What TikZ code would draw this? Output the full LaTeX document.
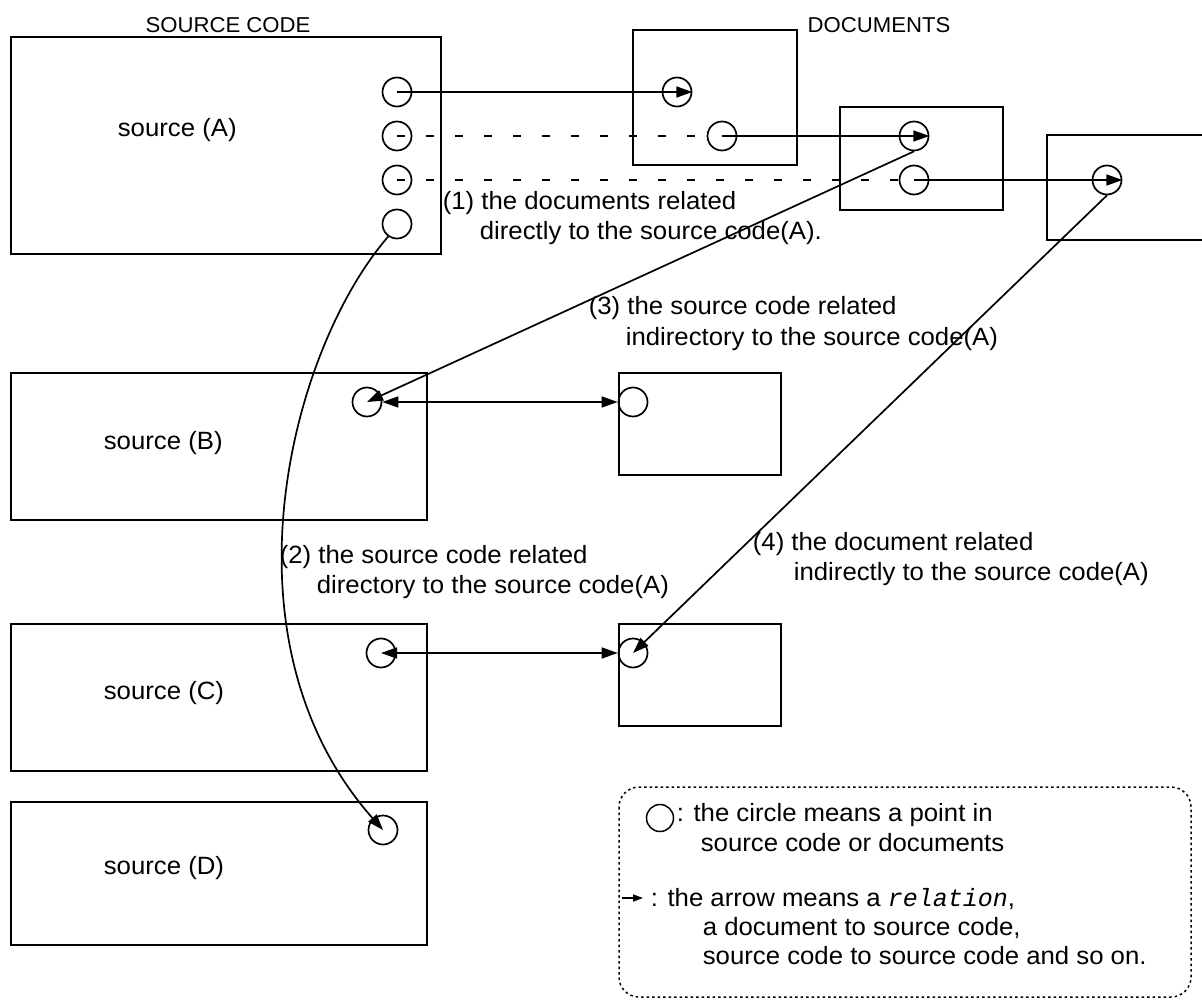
\documentclass[tikz,border=0pt]{standalone}
\usepackage{fontspec}
\setmainfont{Liberation Sans}[FakeStretch=1.03]
\newfontfamily\relfont{Liberation Mono}
\usetikzlibrary{arrows.meta}
\begin{document}
\begin{tikzpicture}[x=1pt,y=-1pt,
  line width=1.7pt,
  box/.style={draw,line width=1.7pt},
  pt/.style={draw,circle,minimum size=29pt,inner sep=0pt,line width=1.7pt},
  rel/.style={-{Triangle[length=16pt,width=11pt]}},
  birel/.style={{Triangle[length=16pt,width=11pt]}-{Triangle[length=16pt,width=11pt]}},
  guide/.style={dash pattern=on 8pt off 21pt},
  txt/.style={anchor=base west,inner sep=0pt,font=\fontsize{25}{30}\selectfont,align=left},
  head/.style={anchor=base,inner sep=0pt,font=\fontsize{21.5}{26}\selectfont},
  legendframe/.style={draw,line width=1.5pt,dash pattern=on 2.5pt off 3pt,rounded corners=20pt}]
\clip (0,0) rectangle (1202,1000);

% column headings
\node[head] (hsrc) at (228,33) {SOURCE CODE};
\node[head] (hdoc) at (879,33) {DOCUMENTS};

% source code files
\draw[box] (11,37) rectangle (441,254);
\draw[box] (11,373) rectangle (427,520);
\draw[box] (11,624) rectangle (427,771);
\draw[box] (11,802) rectangle (427,945);
\node[txt] (sa) at (117,137) {source (A)};
\node[txt] (sb) at (103,449) {source (B)};
\node[txt] (sc) at (103,699) {source (C)};
\node[txt] (sd) at (103,874) {source (D)};

% documents
\draw[box] (633,30) rectangle (797,165);
\draw[box] (840,107) rectangle (1003,210);
\draw[box] (1047,135) rectangle (1215,240);
\draw[box] (619,373) rectangle (781,475);
\draw[box] (619,624) rectangle (781,726);

% points inside sources and documents
\node[pt] (a1) at (397,92) {};
\node[pt] (a2) at (397,136) {};
\node[pt] (a3) at (397,180) {};
\node[pt] (a4) at (397,224) {};
\node[pt] (d1a) at (677,92) {};
\node[pt] (d1b) at (722,136) {};
\node[pt] (d2a) at (914,136) {};
\node[pt] (d2b) at (914,180) {};
\node[pt] (d3) at (1107,180) {};
\node[pt] (b1) at (367,402) {};
\node[pt] (d4) at (633,402) {};
\node[pt] (c1) at (381,653) {};
\node[pt] (d5) at (633,653) {};
\node[pt] (dd) at (383,830) {};

% relations
\draw[rel] (a1.center) -- (d1a.east);
\draw[guide] (a2.center) -- (d1b.west);
\draw[rel] (d1b.center) -- (d2a.east);
\draw[guide] (a3.center) -- (d2b.center);
\draw[rel] (d2b.center) -- (d3.east);
\draw[rel] (d2a.south) -- (b1.center);
\draw[birel] (b1.east) -- (d4.west);
\draw[rel] (d3.south) -- (d5.center);
\draw[birel] (c1.center) -- (d5.west);
\draw[rel] (a4.235) .. controls (290,350) and (215,640) .. (dd.center);

% labels of the relations
\node[txt] (l1a) at (442,210) {(1) the documents related};
\node[txt] (l1b) at (479,240) {directly to the source code(A).};
\node[txt] (l3a) at (588,315) {(3) the source code related};
\node[txt] (l3b) at (625,345) {indirectory to the source code(A)};
\node[txt] (l2a) at (279,563) {(2) the source code related};
\node[txt] (l2b) at (316,593) {directory to the source code(A)};
\node[txt] (l4a) at (752,550) {(4) the document related};
\node[txt] (l4b) at (793,580) {indirectly to the source code(A)};

% legend
\draw[legendframe] (619,787) rectangle (1191,997);
\node[pt,minimum size=27pt,line width=1.5pt] (lc) at (660,818) {};
\node[txt] (lt1) at (676,821) {: the circle means a point in};
\node[txt] (lt2) at (700,851) {source code or documents};
\coordinate (la1) at (622,898);
\coordinate (la2) at (643,898);
\draw[-{Triangle[length=10pt,width=7pt]},line width=1.5pt] (la1) -- (la2);
\node[txt] (lt3) at (650,906) {: the arrow means a {\relfont\itshape relation},};
\node[txt] (lt4) at (702,935) {a document to source code,};
\node[txt] (lt5) at (702,964) {source code to source code and so on.};
\end{tikzpicture}
\end{document}
